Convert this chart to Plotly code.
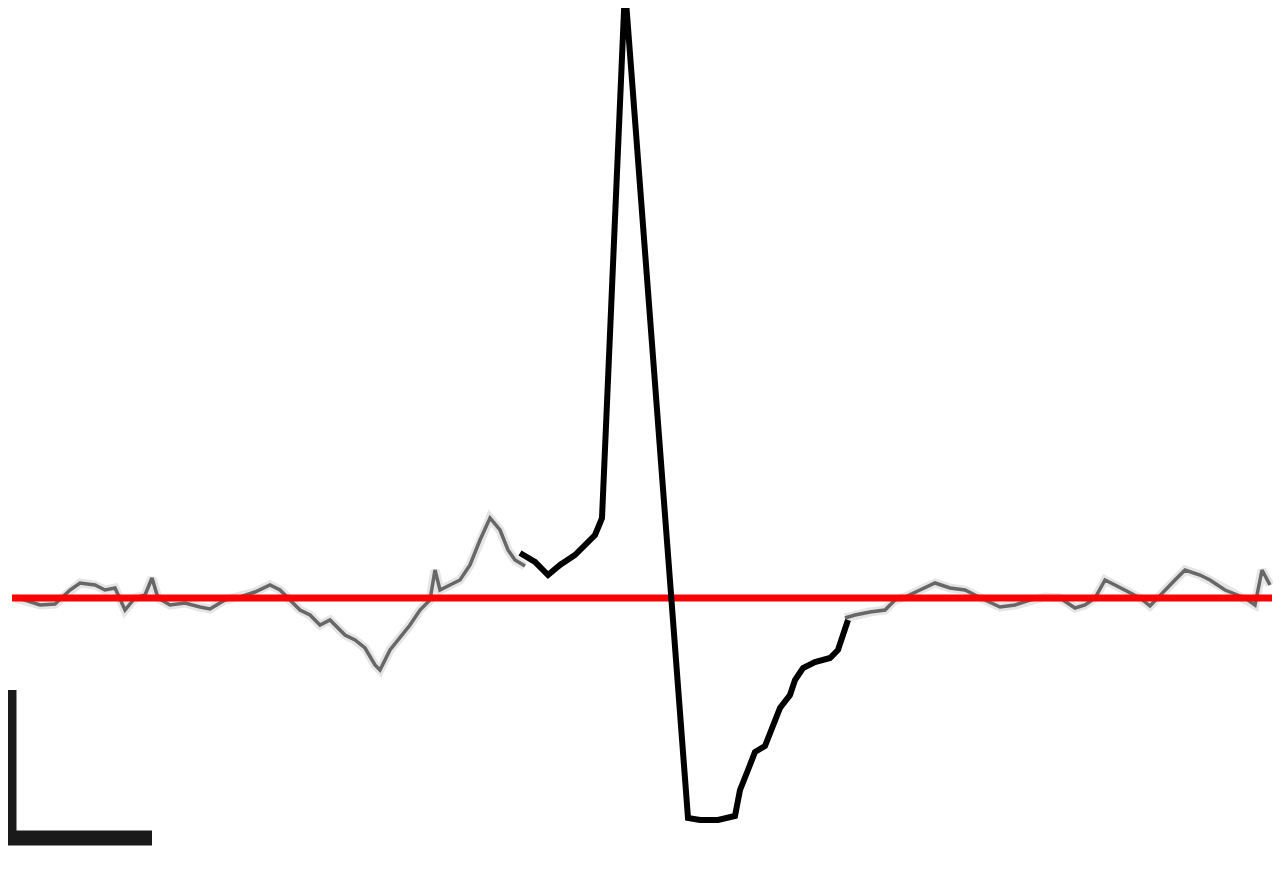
import plotly.graph_objects as go

# Background (gray) trace: time, amplitude (baseline = 0); None marks the hidden part under the overlay
gray_t = [15, 25, 40, 55, 70, 80, 95, 105, 115, 125, 135, 145, 152, 158, 170, 185, 200, 210, 225, 240,
          255, 270, 280, 290, 300, 310, 320, 330, 345, 355, 365, 375, 380, 390, 400, 410, 420, 430, 435,
          440, 450, 460, 470, 480, 490, 500, 508, 515, 525, None,
          845, 855, 870, 885, 895, 905, 920,
          935, 950, 965, 985, 1000, 1015, 1030, 1045, 1060, 1075, 1085, 1095, 1105, 1115, 1125, 1140,
          1150, 1165, 1175, 1185, 1200, 1210, 1225, 1245, 1255, 1262, 1270]
gray_v = [0, -2, -7, -6, 8, 15, 13, 8, 10, -12, 0, 3, 20, 0, -7, -5, -9, -11, -2, 1,
          6, 13, 8, -2, -12, -17, -27, -22, -37, -42, -50, -67, -72, -52, -40, -27, -12, -2, 28,
          8, 13, 18, 33, 58, 80, 68, 48, 38, 32, None,
          -20, -17, -14, -12, -2, 1, 8,
          15, 10, 8, -2, -9, -7, -2, 1, 0, -10, -7, 0, 18, 13, 8, 0,
          -8, 8, 18, 28, 23, 18, 8, 0, -7, 28, 13]

# Highlighted (black) segment
black_t = [520, 535, 548, 560, 575, 585, 595, 600, 602, 625, 688, 700, 718, 735, 740, 748, 755, 765,
           775, 780, 790, 795, 803, 815, 830, 838, 848]
black_v = [45, 36, 23, 33, 43, 53, 63, 75, 80, 610, -220, -222, -222, -218, -192, -172, -154, -148,
           -122, -110, -97, -82, -70, -64, -60, -52, -22]

# Baseline (red)
baseline_t = [12, 1272]
baseline_v = [0, 0]

# Scale bar (L shape)
scale_t = [9, 9, 152]
scale_v = [-92, -240, -240]

PAGE_OFFSET = 8  # default body margin of the html page

fig = go.Figure()
fig.add_trace(go.Scatter(x=gray_t, y=gray_v, mode="lines", connectgaps=False,
                         line=dict(color="rgba(0,0,0,0.10)", width=9),
                         hoverinfo="skip"))
fig.add_trace(go.Scatter(x=gray_t, y=gray_v, mode="lines", connectgaps=False,
                         line=dict(color="rgba(60,60,60,0.75)", width=3.5),
                         hoverinfo="skip"))
fig.add_trace(go.Scatter(x=baseline_t, y=baseline_v, mode="lines",
                         line=dict(color="#ff0000", width=7), hoverinfo="skip"))
fig.add_trace(go.Scatter(x=black_t, y=black_v, mode="lines",
                         line=dict(color="#000000", width=6), hoverinfo="skip"))
fig.add_trace(go.Scatter(x=scale_t, y=scale_v, mode="lines",
                         line=dict(color="#1a1a1a", width=15), hoverinfo="skip"))

fig.update_layout(
    width=1281, height=873,
    margin=dict(l=0, r=0, t=0, b=0),
    paper_bgcolor="white", plot_bgcolor="white",
    showlegend=False,
    xaxis=dict(range=[PAGE_OFFSET, 1281 + PAGE_OFFSET], visible=False, fixedrange=True),
    yaxis=dict(range=[598 - PAGE_OFFSET - 873, 598 - PAGE_OFFSET], visible=False, fixedrange=True),
)
fig.write_html("out.html")
